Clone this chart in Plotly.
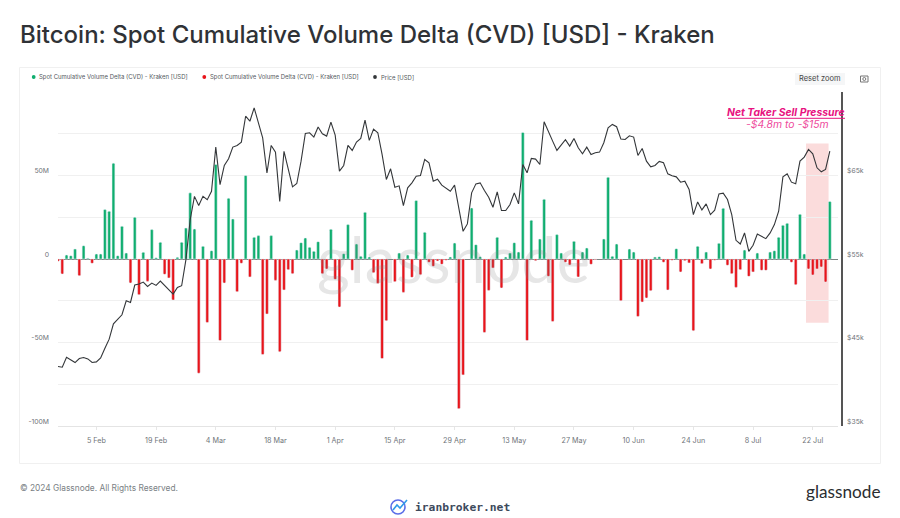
import plotly.graph_objects as go
import pandas as pd

W, H = 900, 518
L, R, T, B = 58, 842, 92, 426   # plot area in window pixels

# ---- data ----
start_date = "2024-01-27"
cvd_musd = [
 -1.4,-9,2.4,2,6,-10,8,0.5,-2.6,3,3,29.6,28.6,57.4,2,19.6,3.6,-14.4,25,-21.4,
 4,-13.4,17.6,0.8,10,-9.2,-11.4,-24.6,1,10,18.6,39.6,18,-68.4,7.6,-38,5,56.6,-48.8,-14.4,
 36.4,24,-19.6,-2.6,50,-10.8,13,14,-57.2,-33,14,-12.8,-55.6,-18.6,-6.4,-8.8,5.4,9.8,12.6,7,
 4.6,10.4,-8.8,-6,17.8,-12.2,-28.8,3.2,20.6,-6.8,9,1.6,28,1.2,-8.2,-14.6,-59.6,-37,0,-13.6,
 3.6,-20,2.4,-11,35,-9.4,16,-2,-4.4,-1.2,-3.2,-0.8,1.2,9.6,-89.6,-69.4,0,30.6,8.6,1.4,
 -44,-18.8,-5.4,13,-17.4,1.2,3.6,9.8,4.2,75.8,-48.8,23.2,-1,12,35.8,-10.4,-37.4,14.6,3.6,-2,
 -3.6,10.6,-10.8,4.2,6.6,-3.2,-0.4,0,12,49,1.6,9,-25,0,6,4.2,-34.4,-25.8,-23.4,-19,
 1.2,1.4,-2,-18.6,-0.8,6.2,-7.8,-1,-2.4,-43,7.6,-2.8,4.2,-6,-0.8,9.4,30.4,-3.8,-8.8,-17,
 -6.4,5.4,-10.4,-7.8,3.6,-6.8,-6.8,4.2,5,13,20.2,21.4,-2,-15.4,26.8,3,-6,-9.6,-6,-4.8,
 -13.8,34.4,
]
price_kusd = [
 42.12,42.04,43.24,42.92,42.6,43.08,43.2,43.04,42.6,42.68,43.16,44.32,45.4,47.24,47.84,48.32,50,49.8,51.88,52,
 52.24,51.72,52.12,51.84,52.36,51.8,51.28,50.8,51.6,51.8,54.92,59.7,62.5,61.4,62.5,62.1,63.1,68.4,63.9,66.2,
 67,68.4,68.6,69,72.1,71.5,73.1,71.4,69.5,65.3,68.6,67.8,61.9,67.9,65.6,63.64,64.04,66.72,70.04,70.12,
 69.6,70.8,70,69.72,71.4,69.84,65.52,66.2,68.6,68,69,69.44,71.64,69.2,70.56,70.12,67.52,64.52,65.8,63.6,
 63.76,61.4,63.52,64.12,64.92,65,66.92,66.52,64.32,64.56,63.84,63.52,63.12,63.84,60.92,58.32,59.2,62.92,64,64.12,
 63.2,62.4,61.2,63.04,60.8,60.8,61.52,62.92,61.6,66.32,65.32,67.04,66.96,66.32,71.44,70.2,69.12,68,68.6,69.28,
 68.52,69.44,68.32,67.6,68.4,67.52,67.72,67.8,68.92,70.72,71.12,70.84,69.36,69.32,69.76,69.6,67.4,68.24,66.72,66.04,
 66.2,66.68,66.52,65.2,64.96,64.84,64.2,64.32,63.32,60.32,61.84,60.88,61.6,60.32,60.84,62.8,62.88,62.12,60.32,57.24,
 56.8,58.12,55.92,56.64,58,57.72,57.44,58.12,59.12,60.72,64.84,65.2,64.2,64,66.72,67.2,68.12,67.6,65.92,65.44,
 65.72,67.92,
]
series_names = ["Spot Cumulative Volume Delta (CVD) - Kraken [USD]",
                "Spot Cumulative Volume Delta (CVD) - Kraken [USD]",
                "Price [USD]"]
y_ticks = [-100, -75, -50, -25, 0, 25, 50, 75, 100]
y_labels = ["-100M", "", "-50M", "", "0", "", "50M", "", ""]
y2_ticks = [35, 45, 55, 65]
y2_labels = ["$35k", "$45k", "$55k", "$65k"]

dates = pd.date_range(start_date, periods=len(cvd_musd), freq="D")
GREEN, RED, DARK = "#0fae6e", "#e8141a", "#333639"
FONT = "Inter, 'Noto Sans', sans-serif"
GREY = "#6f7479"

def px(x): return (x - L) / (R - L)
def py(y): return (B - y) / (B - T)

pos = [v * 1e6 if v > 0 else None for v in cvd_musd]
neg = [v * 1e6 if v < 0 else None for v in cvd_musd]

fig = go.Figure()
bar_width = 0.66 * 86400000
fig.add_bar(x=dates, y=pos, name=series_names[0], marker_color=GREEN, width=bar_width)
fig.add_bar(x=dates, y=neg, name=series_names[1], marker_color=RED, width=bar_width)
fig.add_scatter(x=dates, y=[p * 1e3 for p in price_kusd], name=series_names[2], yaxis="y2",
                mode="lines", line=dict(color=DARK, width=1.1))

shapes = [
    dict(type="rect", xref="paper", yref="paper", x0=px(19.5), x1=px(880.5), y0=py(67.5), y1=py(463.5),
         line=dict(color="#f0f0f0", width=1), layer="below"),
    # highlighted window
    dict(type="rect", xref="x", yref="y", x0="2024-07-20T10:00", x1="2024-07-25T17:00",
         y0=-38.2e6, y1=69.2e6, fillcolor="#fbdcdc", line_width=0, layer="below"),
    # underline of the callout
    dict(type="line", xref="paper", yref="paper", x0=px(728), x1=px(845), y0=py(118.3), y1=py(118.3),
         line=dict(color="#e8127f", width=1)),
    # reset zoom button
    dict(type="rect", xref="paper", yref="paper", x0=px(795), x1=px(845), y0=py(73), y1=py(85),
         fillcolor="#f5f6f7", line_width=0),
    # camera icon
    dict(type="rect", xref="paper", yref="paper", x0=px(860.5), x1=px(868), y0=py(76), y1=py(82),
         line=dict(color="#777", width=1)),
    dict(type="circle", xref="paper", yref="paper", x0=px(862.8), x1=px(865.8), y0=py(77.5), y1=py(80.5),
         line=dict(color="#777", width=1)),
    # iranbroker mark
    dict(type="circle", xref="paper", yref="paper", x0=px(391), x1=px(405), y0=py(500), y1=py(514),
         line=dict(color="#5b6ee8", width=1.6)),
    dict(type="path", xref="paper", yref="paper",
         path=f"M {px(393)} {py(510)} L {px(397)} {py(505)} L {px(400)} {py(508)} L {px(407)} {py(500)}",
         line=dict(color="#2f9be8", width=1.6)),
]

def note(text, x, y, size, color=GREY, anchor="left", **kw):
    return dict(text=text, xref="paper", yref="paper", x=px(x), y=py(y), xanchor=anchor, yanchor="middle",
                showarrow=False, borderpad=0, font=dict(family=kw.pop("family", FONT), size=size, color=color, **kw))

ann = [
    note("glassnode", 453, 258, 63, "rgba(130,130,130,0.2)", "center", family="Lato, sans-serif"),
    note("Bitcoin: Spot Cumulative Volume Delta (CVD) [USD] - Kraken", 19, 34, 24, "#2f3236", weight=500),
    note(series_names[0], 37.5, 77, 5.98, "#555a60"),
    note(series_names[1], 208.5, 77, 5.98, "#555a60"),
    note(series_names[2], 379.5, 77, 5.98, "#555a60"),
    note("Reset zoom", 820, 79, 7.5, "#444", "center"),
    note("Net Taker Sell Pressure", 786, 112.5, 10.4, "#e8127f", "center", weight=700, style="italic"),
    note("-$4.8m to -$15m", 787.5, 125, 10.4, "#ee4a9c", "center", style="italic"),
    note("© 2024 Glassnode. All Rights Reserved.", 19, 488, 8.35, "#7a7f85"),
    note("glassnode", 880.5, 491, 17.2, "#2a2d30", "right", family="Lato, sans-serif"),
    note("iranbroker.net", 413.5, 507, 11.3, "#3d4a5c", family="DejaVu Sans Mono, monospace", weight=700),
]
for i, c in enumerate([GREEN, RED, DARK]):
    cx = [33.7, 204.3, 375][i]
    shapes.append(dict(type="circle", xref="paper", yref="paper", x0=px(cx - 1.9), x1=px(cx + 1.9),
                       y0=py(75.1), y1=py(78.9), fillcolor=c, line_width=0))

fig.update_layout(
    width=W, height=H, autosize=False, barmode="overlay", bargap=0.1, showlegend=False,
    barcornerradius=1,
    margin=dict(l=L, r=W - R, t=T, b=H - B, pad=0),
    paper_bgcolor="white", plot_bgcolor="rgba(0,0,0,0)",
    font=dict(family=FONT, size=7, color=GREY),
    shapes=shapes, annotations=ann,
    xaxis=dict(domain=[0, (838 - L) / (R - L)], type="date",
               range=["2024-01-27", "2024-07-27T22:00"],
               tick0="2024-02-05", dtick=14 * 86400000, tickformat="%-d %b",
               showgrid=False, zeroline=False, ticks="outside", ticklen=3, tickcolor="#e6e6e6",
               showline=True, linecolor="#e4e4e4", linewidth=1,
               tickfont=dict(size=7.2, color=GREY), ticklabelstandoff=4),
    yaxis=dict(range=[-100e6, 100e6], tickvals=[v * 1e6 for v in y_ticks], ticktext=y_labels,
               showgrid=True, gridcolor="#f0f0f0", gridwidth=1, zeroline=True, zerolinecolor="#7d8583",
               zerolinewidth=1, ticks="", ticklabelposition="outside top", ticklabelstandoff=8,
               tickfont=dict(size=6.8, color=GREY)),
    yaxis2=dict(range=[35e3, 75e3], overlaying="y", side="right", anchor="free", position=1,
                tickvals=[v * 1e3 for v in y2_ticks], ticktext=y2_labels,
                showgrid=False, zeroline=False, showline=True, linecolor="#555", linewidth=1.5,
                ticks="", ticklabelposition="outside top", ticklabelstandoff=3,
                tickfont=dict(size=6.8, color=GREY)),
)
fig.write_html("out.html", config=dict(displayModeBar=False),
               post_script="document.body.style.margin='0';document.documentElement.style.overflow='hidden';")
